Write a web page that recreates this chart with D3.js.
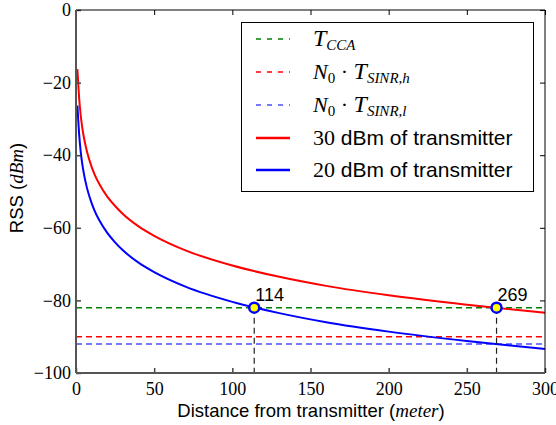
<!DOCTYPE html>
<html>
<head>
<meta charset="utf-8">
<script src="https://cdn.jsdelivr.net/npm/d3@7"></script>
<style>
  body { margin: 0; background: #fff; }
  svg { display: block; }
</style>
</head>
<body>
<div id="chart"></div>
<script>
// distance (m) and read RSS values (dBm)
let distances = [0.9, 1.5, 2, 3, 4, 5, 7, 10, 12, 15, 20, 25, 30, 40, 50, 70, 100, 130, 160, 200, 250, 300]
let rss30 = [-16.3, -20.8, -24.2, -29.0, -32.4, -35.0, -39.0, -43.2, -45.4, -48.0, -51.4, -54.0, -56.2, -59.6, -62.2, -66.2, -70.4, -73.5, -76.0, -78.6, -81.2, -83.4]
let rss20 = [-26.3, -30.8, -34.2, -39.0, -42.4, -45.0, -49.0, -53.2, -55.4, -58.0, -61.4, -64.0, -66.2, -69.6, -72.2, -76.2, -80.4, -83.5, -86.0, -88.6, -91.2, -93.4]

let thresholdValues = [-82, -90, -92]
let thresholdColors = ['#008000', '#ff0000', '#4d4dff']

let crossDistances = [114, 269]
let crossRSS = [-82, -82]

let xTicks = [0, 50, 100, 150, 200, 250, 300]
let yTicks = [0, -20, -40, -60, -80, -100]

let serif = "'Liberation Serif', 'DejaVu Serif', serif"
let sans = "'Liberation Sans', Arial, sans-serif"

function d3init() {
  let W = 556, H = 425
  let margin = {left: 76, right: 11, top: 10, bottom: 52}

  let svg = d3.select('#chart').append('svg')
    .attr('width', W).attr('height', H)

  let x = d3.scaleLinear().domain([0, 300]).range([margin.left, W - margin.right])
  let y = d3.scaleLinear().domain([-100, 0]).range([H - margin.bottom, margin.top])

  let plot = svg.append('g')

  // threshold lines
  thresholdValues.forEach(function(v, i) {
    plot.append('line')
      .attr('x1', x(0)).attr('x2', x(300))
      .attr('y1', y(v)).attr('y2', y(v))
      .attr('stroke', thresholdColors[i])
      .attr('stroke-width', 1.5)
      .attr('stroke-dasharray', '6,4')
  })

  let line = d3.line()
    .x(function(d) { return x(d[0]) })
    .y(function(d) { return y(d[1]) })
    .curve(d3.curveMonotoneX)

  let redData = distances.map(function(d, i) { return [d, rss30[i]] })
  let blueData = distances.map(function(d, i) { return [d, rss20[i]] })

  plot.append('path').datum(redData)
    .attr('d', line).attr('fill', 'none')
    .attr('stroke', 'red').attr('stroke-width', 2)
  plot.append('path').datum(blueData)
    .attr('d', line).attr('fill', 'none')
    .attr('stroke', 'blue').attr('stroke-width', 2)

  // vertical markers down to the axis
  crossDistances.forEach(function(d, i) {
    plot.append('line')
      .attr('x1', x(d)).attr('x2', x(d))
      .attr('y1', y(crossRSS[i])).attr('y2', y(-100))
      .attr('stroke', '#222').attr('stroke-width', 1.2)
      .attr('stroke-dasharray', '6,4')
  })
  crossDistances.forEach(function(d, i) {
    plot.append('circle')
      .attr('cx', x(d)).attr('cy', y(crossRSS[i])).attr('r', 5)
      .attr('fill', 'yellow').attr('stroke', 'blue').attr('stroke-width', 2.5)
    plot.append('text')
      .attr('x', x(d) + 1).attr('y', y(crossRSS[i]) - 7)
      .attr('font-family', sans).attr('font-size', 18)
      .text(d)
  })

  // axes with inward ticks
  let xAxis = d3.axisBottom(x).tickValues(xTicks).tickSizeInner(-5).tickSizeOuter(0).tickPadding(9)
  let yAxis = d3.axisLeft(y).tickValues(yTicks).tickSizeInner(-5).tickSizeOuter(0).tickPadding(5)
    .tickFormat(function(d) { return d === 0 ? '0' : '\u2212' + Math.abs(d) })

  let gx = svg.append('g').attr('transform', 'translate(0,' + y(-100) + ')').call(xAxis)
  let gy = svg.append('g').attr('transform', 'translate(' + x(0) + ',0)').call(yAxis)
  gx.selectAll('text').style('font-family', serif).attr('font-size', 18).attr('fill', '#000')
  gy.selectAll('text').style('font-family', serif).attr('font-size', 18).attr('fill', '#000')
  gx.selectAll('line').attr('stroke', '#444').attr('stroke-width', 1.5)
  gy.selectAll('line').attr('stroke', '#444').attr('stroke-width', 1.5)
  gx.select('.domain').remove()
  gy.select('.domain').remove()

  // top and right ticks
  svg.append('g').attr('transform', 'translate(0,' + y(0) + ')')
    .call(d3.axisTop(x).tickValues(xTicks).tickSizeInner(-5).tickSizeOuter(0).tickFormat(''))
    .select('.domain').remove()
  svg.append('g').attr('transform', 'translate(' + x(300) + ',0)')
    .call(d3.axisRight(y).tickValues(yTicks).tickSizeInner(-5).tickSizeOuter(0).tickFormat(''))
    .select('.domain').remove()

  // frame
  svg.append('line').attr('x1', x(0)).attr('x2', x(300)).attr('y1', y(0)).attr('y2', y(0)).attr('stroke', '#000')
  svg.append('line').attr('x1', x(300)).attr('x2', x(300)).attr('y1', y(0)).attr('y2', y(-100)).attr('stroke', '#000')
  svg.append('line').attr('x1', x(0)).attr('x2', x(0)).attr('y1', y(0)).attr('y2', y(-100)).attr('stroke', '#555').attr('stroke-width', 2)
  svg.append('line').attr('x1', x(0)).attr('x2', x(300)).attr('y1', y(-100)).attr('y2', y(-100)).attr('stroke', '#555').attr('stroke-width', 2)

  // axis labels
  let xl = svg.append('text')
    .attr('x', 311).attr('y', 417).attr('text-anchor', 'middle')
    .style('font-family', sans).attr('font-size', 18.5)
  xl.append('tspan').text('Distance from transmitter (')
  xl.append('tspan').style('font-family', serif).attr('font-style', 'italic').attr('font-size', 19).text('meter')
  xl.append('tspan').text(')')

  let yl = svg.append('text')
    .attr('transform', 'translate(23,188) rotate(-90)').attr('text-anchor', 'middle')
    .style('font-family', sans).attr('font-size', 18.5)
  yl.append('tspan').text('RSS (')
  yl.append('tspan').style('font-family', serif).attr('font-style', 'italic').attr('font-size', 19).text('dBm')
  yl.append('tspan').text(')')

  // legend
  let lg = svg.append('g')
  lg.append('rect').attr('x', 241.5).attr('y', 22.5).attr('width', 292).attr('height', 169)
    .attr('fill', '#fff').attr('stroke', '#000').attr('stroke-width', 1)

  let rowY = [39, 72, 105, 138, 170]
  let samples = [
    {color: thresholdColors[0], dash: '5,6', w: 1.5},
    {color: thresholdColors[1], dash: '5,6', w: 1.5},
    {color: thresholdColors[2], dash: '5,6', w: 1.5},
    {color: 'red', dash: null, w: 2.5},
    {color: 'blue', dash: null, w: 2.5}
  ]
  samples.forEach(function(s, i) {
    lg.append('line').attr('x1', 256).attr('x2', 290).attr('y1', rowY[i]).attr('y2', rowY[i])
      .attr('stroke', s.color).attr('stroke-width', s.w)
      .attr('stroke-dasharray', s.dash)
  })

  function mathT(t, sub) {
    t.append('tspan').style('font-family', serif).attr('font-style', 'italic').attr('font-size', 24).text('T')
    t.append('tspan').style('font-family', serif).attr('font-style', 'italic').attr('font-size', 15)
      .attr('dy', 4).text(sub)
  }
  function n0(t) {
    t.append('tspan').style('font-family', serif).attr('font-style', 'italic').attr('font-size', 22).text('N')
    t.append('tspan').style('font-family', serif).attr('font-size', 15).attr('dy', 4).text('0')
    t.append('tspan').style('font-family', serif).attr('font-size', 22).attr('dy', -4).text(' \u00b7 ')
  }

  let t0 = lg.append('text').attr('x', 313).attr('y', rowY[0] + 7)
  mathT(t0, 'CCA')
  let t1 = lg.append('text').attr('x', 313).attr('y', rowY[1] + 7)
  n0(t1); mathT(t1, 'SINR,h')
  let t2 = lg.append('text').attr('x', 313).attr('y', rowY[2] + 7)
  n0(t2); mathT(t2, 'SINR,l')

  ;['30', '20'].forEach(function(p, i) {
    let t = lg.append('text').attr('x', 313).attr('y', rowY[3 + i] + 7)
      .style('font-family', sans).attr('font-size', 21)
    t.append('tspan').style('font-family', serif).attr('font-size', 22).text(p)
    t.append('tspan').text(' dBm of transmitter')
  })
}

d3init()
</script>
</body>
</html>
